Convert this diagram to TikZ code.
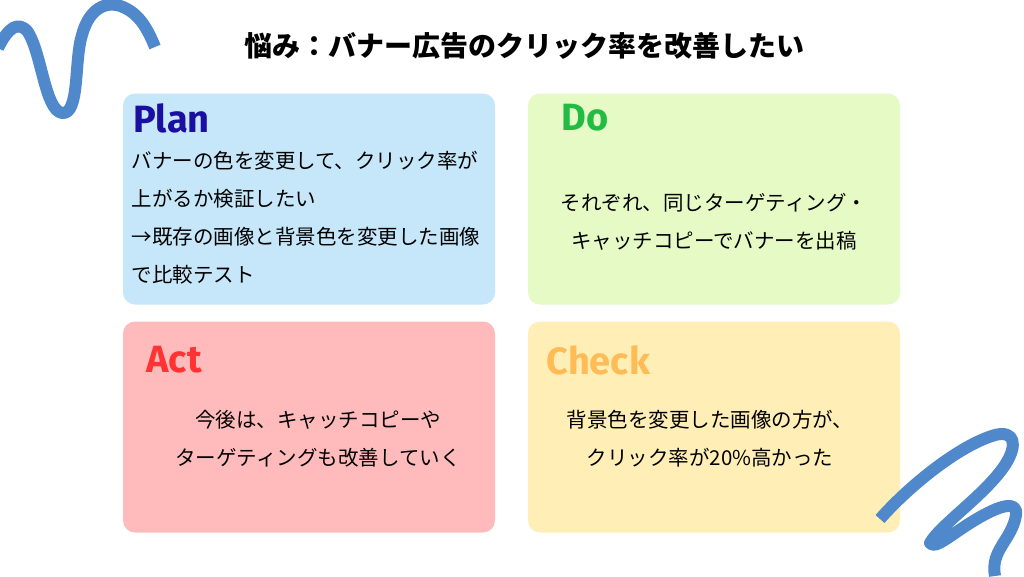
\documentclass[tikz,border=0pt]{standalone}
\usepackage{fontspec}
\setmainfont{Noto Sans CJK JP}
\newfontfamily\headfont{Fira Sans}
\definecolor{squig}{HTML}{5088CC}
\definecolor{planbg}{HTML}{C6E7F9}
\definecolor{dobg}{HTML}{E6FAC6}
\definecolor{actbg}{HTML}{FFBBBB}
\definecolor{checkbg}{HTML}{FFEFB6}
\definecolor{planc}{HTML}{1A0FA0}
\definecolor{doc}{HTML}{22BB44}
\definecolor{actc}{HTML}{FF3333}
\definecolor{checkc}{HTML}{FFBB55}
\tikzset{
  card/.style={rounded corners=12pt, inner sep=0pt, minimum width=372pt, minimum height=211pt},
  head/.style={font=\headfont\bfseries\fontsize{38}{44}\selectfont, anchor=west},
  body/.style={font=\fontsize{20.5}{38}\selectfont, align=center},
  squiggle/.style={draw=squig, line width=12pt, line cap=butt, line join=round}
}
\begin{document}
\begin{tikzpicture}[x=1pt,y=-1pt]
\useasboundingbox (0,0) rectangle (1024,576);
\fill[white] (0,0) rectangle (1024,576);
\node[card, fill=planbg] (plan) at (309,199) {};
\node[card, fill=dobg] (do) at (714,199) {};
\node[card, fill=actbg] (act) at (309,427) {};
\node[card, fill=checkbg] (check) at (714,427) {};
\draw[squiggle] (-2,48) .. controls (8,28) and (18,20) .. (28,32) .. controls (42,55) and (45,110) .. (62,113) .. controls (80,115) and (74,60) .. (82,35) .. controls (90,5) and (110,0) .. (125,8) .. controls (140,15) and (148,30) .. (155,47);
\draw[squiggle] (880,519) .. controls (910,485) and (960,445) .. (995,435) .. controls (1015,430) and (1018,445) .. (1005,465) .. controls (985,495) and (940,525) .. (930,543) .. controls (935,550) and (950,535) .. (975,520) .. controls (1000,505) and (1018,500) .. (1016,515) .. controls (1012,540) and (990,550) .. (995,576);
\node[font=\bfseries\fontsize{28}{32}\selectfont] (title) at (524,46) {悩み：バナー広告のクリック率を改善したい};
\node[head, text=planc] (planh) at (130,118) {Plan};
\node[head, text=doc] (doh) at (558,118) {Do};
\node[head, text=actc] (acth) at (143,360) {Act};
\node[head, text=checkc] (checkh) at (543,360) {Check};
\node[body, align=left, anchor=north west] (plant) at (128,148) {バナーの色を変更して、クリック率が\\上がるか検証したい\\→既存の画像と背景色を変更した画像\\で比較テスト};
\node[body] (dot) at (714,222) {それぞれ、同じターゲティング・\\キャッチコピーでバナーを出稿};
\node[body] (actt) at (318,439) {今後は、キャッチコピーや\\ターゲティングも改善していく};
\node[body] (checkt) at (710,439) {背景色を変更した画像の方が、\\クリック率が20\%高かった};
\end{tikzpicture}
\end{document}
